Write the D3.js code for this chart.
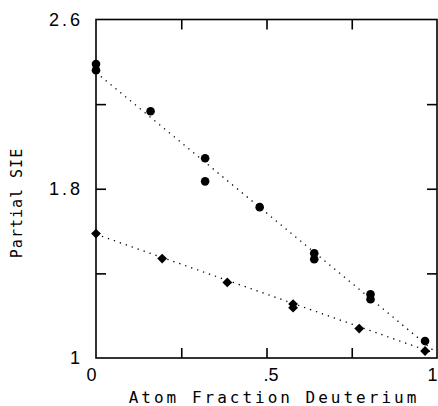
<!doctype html>
<html>
  <head>
    <script src="https://cdnjs.cloudflare.com/ajax/libs/d3/7.8.5/d3.min.js"></script>
  <style>
    body { margin: 0; background: #fff; }
    svg { font-family: "DejaVu Sans Mono", monospace; }
    path.domain { stroke: none; }
    .tick > line { stroke: #000; stroke-width: 1.6; }
    .tick > text { fill: #000; font-size: 18px; letter-spacing: 3px; }
    .xl .tick > text { letter-spacing: 0; }
    .fit { fill: none; stroke: #000; stroke-width: 1.3; stroke-dasharray: 1.3,5; }
  </style>
  </head>
  <body>
    <svg style="width:438px;height:406px;"></svg>
    <script>
      // upper series (circles)
      var circleX = [0, 0, 0.16, 0.32, 0.32, 0.48, 0.64, 0.64, 0.805, 0.805, 0.965];
      var circleY = [2.39, 2.36, 2.166, 1.944, 1.835, 1.713, 1.495, 1.467, 1.301, 1.278, 1.08];
      // lower series (diamonds)
      var diamondX = [0, 0.194, 0.385, 0.578, 0.578, 0.772, 0.965];
      var diamondY = [1.588, 1.47, 1.357, 1.255, 1.238, 1.139, 1.033];
      // fitted lines: start and end points
      var upperFit = [[0, 2.35], [0.99, 1.035]];
      var lowerFit = [[0, 1.585], [0.98, 1.03]];

      var xLabels = [0, 0.5, 1];
      var xTicks = [0.25, 0.5, 0.75];
      var yLabels = [1, 1.8, 2.6];
      var yTicks = [1.4, 1.8, 2.2];

      var svg = d3.select("svg");
      var xScale = d3.scaleLinear().domain([0, 1]).range([96, 437]);
      var yScale = d3.scaleLinear().domain([1, 2.6]).range([358, 19.5]);

      var fmtX = d => d === 0 ? "0" : d === 1 ? "1" : d3.format(".1f")(d).replace(/^0/, "");
      var fmtY = d => d === 1 ? "1" : d3.format(".1f")(d);

      // frame
      svg.append("rect")
        .attr("x", xScale(0)).attr("y", yScale(2.6))
        .attr("width", xScale(1) - xScale(0)).attr("height", yScale(1) - yScale(2.6))
        .attr("fill", "none").attr("stroke", "#000").attr("stroke-width", 1.6);

      // inward ticks
      svg.append("g").attr("transform", `translate(0,${yScale(1)})`)
        .call(d3.axisBottom(xScale).tickValues(xTicks).tickSize(-10).tickFormat(""));
      svg.append("g").attr("transform", `translate(0,${yScale(2.6)})`)
        .call(d3.axisTop(xScale).tickValues(xTicks).tickSize(-10).tickFormat(""));
      svg.append("g").attr("transform", `translate(${xScale(0)},0)`)
        .call(d3.axisLeft(yScale).tickValues(yTicks).tickSize(-10).tickFormat(""));
      svg.append("g").attr("transform", `translate(${xScale(1)},0)`)
        .call(d3.axisRight(yScale).tickValues(yTicks).tickSize(-10).tickFormat(""));

      // labels
      var xl = svg.append("g").attr("class", "xl").attr("transform", `translate(-5,${yScale(1)})`)
        .call(d3.axisBottom(xScale).tickValues(xLabels).tickSize(0).tickPadding(10).tickFormat(fmtX));
      xl.selectAll(".tick line").remove();
      xl.selectAll(".tick text").attr("dx", d => d === 0.5 ? 9 : 0);
      var yl = svg.append("g").attr("transform", `translate(${xScale(0)},0)`)
        .call(d3.axisLeft(yScale).tickValues(yLabels).tickSize(0).tickPadding(13).tickFormat(fmtY));
      yl.selectAll(".tick line").remove();

      // fit lines
      var line = d3.line().x(d => xScale(d[0])).y(d => yScale(d[1]));
      svg.append("path").attr("class", "fit").attr("d", line(upperFit));
      svg.append("path").attr("class", "fit").attr("d", line(lowerFit));

      // markers
      svg.selectAll("circle.pt").data(d3.range(circleX.length)).enter()
        .append("circle").attr("class", "pt")
        .attr("cx", i => xScale(circleX[i])).attr("cy", i => yScale(circleY[i]))
        .attr("r", 4.3).attr("fill", "#000");
      var diamond = d3.symbol().type(d3.symbolSquare).size(48);
      svg.selectAll("path.dm").data(d3.range(diamondX.length)).enter()
        .append("path").attr("class", "dm")
        .attr("transform", i => `translate(${xScale(diamondX[i])},${yScale(diamondY[i])}) rotate(45)`)
        .attr("d", diamond).attr("fill", "#000");

      // axis titles
      svg.append("text")
        .attr("x", 274).attr("y", 403)
        .attr("text-anchor", "middle")
        .style("font-size", "16px").style("letter-spacing", "3px")
        .text("Atom Fraction Deuterium");
      svg.append("text")
        .attr("transform", "translate(22,203) rotate(-90)")
        .attr("text-anchor", "middle")
        .style("font-size", "15px").style("letter-spacing", "1px")
        .text("Partial SIE");
    </script>
  </body>
</html>
